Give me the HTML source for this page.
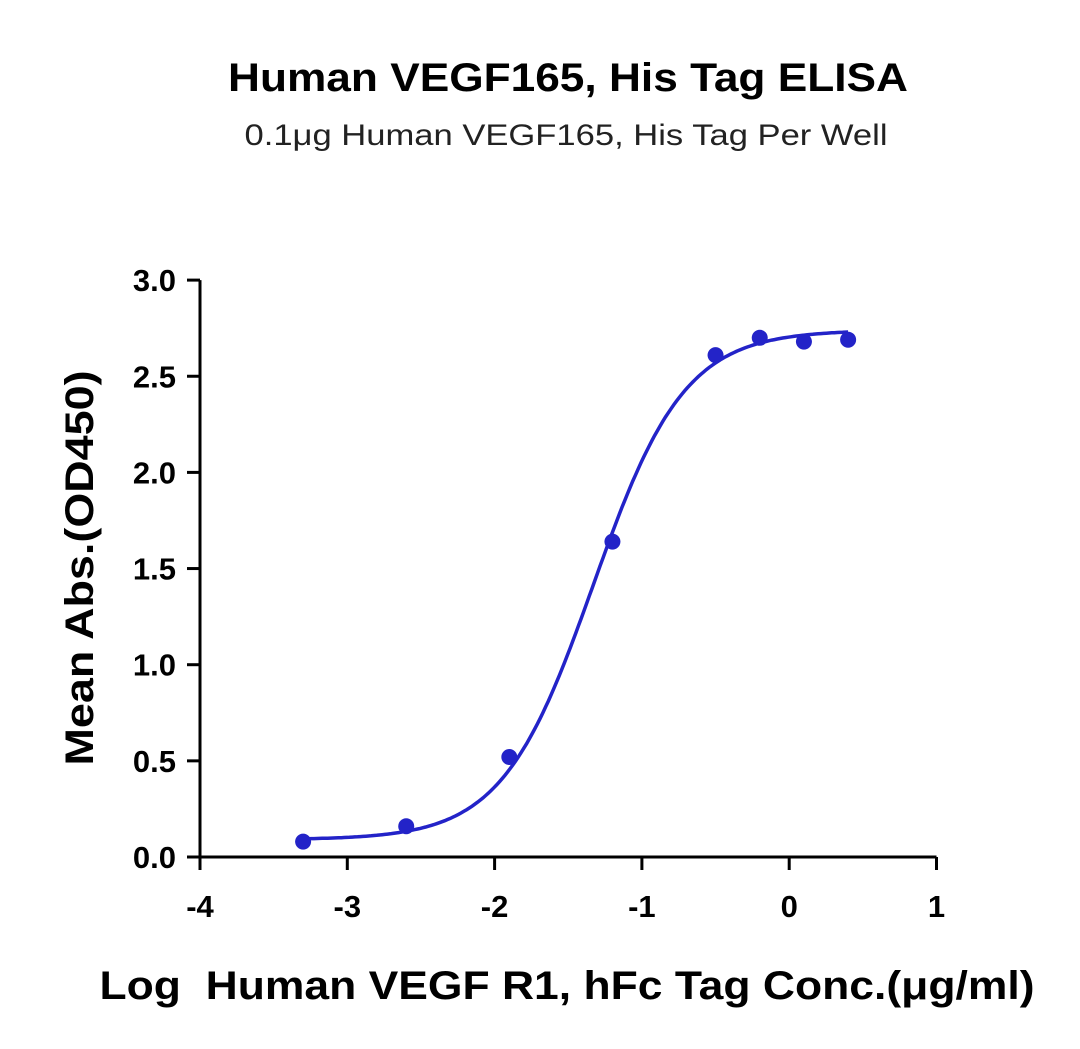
<!DOCTYPE html>
<html><head><meta charset="utf-8"><style>
body{margin:0;background:#fff;}
svg{display:block;font-family:"Liberation Sans",sans-serif;}
</style></head><body>
<svg id="chart" width="1080" height="1049" viewBox="0 0 1080 1049">
<text x="568" y="91" text-anchor="middle" font-size="40" font-weight="bold" textLength="680" lengthAdjust="spacingAndGlyphs">Human VEGF165, His Tag ELISA</text>
<text x="566" y="145" text-anchor="middle" font-size="30" fill="#222" textLength="643" lengthAdjust="spacingAndGlyphs">0.1μg Human VEGF165, His Tag Per Well</text>
<g id="axes"></g>
<g id="marks"></g>
<text x="567" y="999" text-anchor="middle" font-size="40" font-weight="bold" textLength="935" lengthAdjust="spacingAndGlyphs" xml:space="preserve">Log  Human VEGF R1, hFc Tag Conc.(μg/ml)</text>
<text transform="translate(93,568) rotate(-90)" text-anchor="middle" font-size="40" font-weight="bold" textLength="395" lengthAdjust="spacingAndGlyphs">Mean Abs.(OD450)</text>
</svg>
<script>
const xTicks=[-4,-3,-2,-1,0,1];
const yTicks=[0,0.5,1,1.5,2,2.5,3];
const yTickLabels=["0.0","0.5","1.0","1.5","2.0","2.5","3.0"];
const xValues=[-3.3,-2.6,-1.9,-1.2,-0.5,-0.2,0.1,0.4];
const yValues=[0.08,0.16,0.52,1.64,2.61,2.70,2.68,2.69];
const fitParams=[0.09,2.74,-1.33,1.4]; // bottom, top, logEC50, hill
const NS="http://www.w3.org/2000/svg";
const X=v=>200+(v+4)*147.3;
const Y=v=>857-v*192.3;
const axes=document.getElementById('axes'),marks=document.getElementById('marks');
function mk(tag,attrs,parent){const e=document.createElementNS(NS,tag);for(const k in attrs)e.setAttribute(k,attrs[k]);parent.appendChild(e);return e;}
let l=mk('line',{x1:X(-4),y1:Y(0),x2:X(1),y2:Y(0),stroke:'#000','stroke-width':3},axes);


l=mk('line',{x1:X(-4),y1:Y(0)+1.5,x2:X(-4),y2:Y(3),stroke:'#000','stroke-width':3},axes);


xTicks.forEach(t=>{
  const tk=mk('line',{x1:X(t),y1:Y(0),x2:X(t),y2:Y(0)+13,stroke:'#000','stroke-width':3},axes);
  
  
  const tx=mk('text',{x:X(t),y:Y(0)+60,'text-anchor':'middle','font-size':31,'font-weight':'bold'},axes);
  tx.textContent=String(t);
  
  
});
yTicks.forEach((t,i)=>{
  const tk=mk('line',{x1:X(-4)-13,y1:Y(t),x2:X(-4),y2:Y(t),stroke:'#000','stroke-width':3},axes);
  
  
  const tx=mk('text',{x:X(-4)-24,y:Y(t)+11,'text-anchor':'end','font-size':31,'font-weight':'bold'},axes);
  tx.textContent=yTickLabels[i];
  
  
});
const [b,tp,ec,h]=fitParams;
const f=x=>b+(tp-b)/(1+Math.pow(10,(ec-x)*h));
let d='';
const x0=Math.min(...xValues),x1=Math.max(...xValues);
for(let i=0;i<=200;i++){const x=x0+(x1-x0)*i/200;d+=(i?'L':'M')+X(x).toFixed(1)+','+Y(f(x)).toFixed(1);}
const c=mk('path',{d:d,fill:'none',stroke:'#2323c8','stroke-width':3.5},marks);


xValues.forEach((x,i)=>{
  const p=mk('circle',{cx:X(x),cy:Y(yValues[i]),r:8,fill:'#2323c8'},marks);
  
  
});
</script>
</body></html>
